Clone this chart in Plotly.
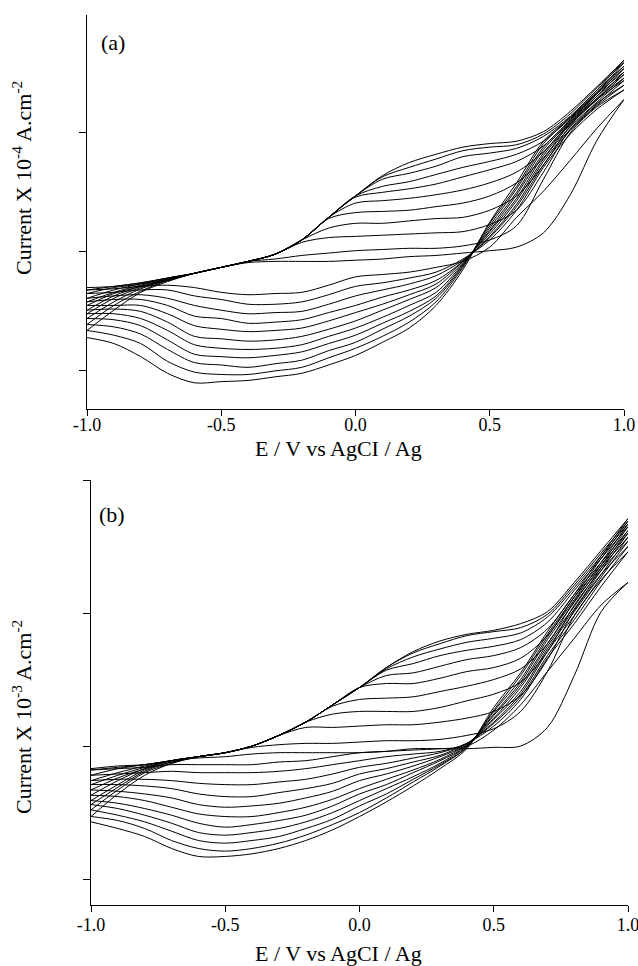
import plotly.graph_objects as go

# Potential grid (V vs AgCl/Ag) shared by every branch
E = [-1.0, -0.9, -0.8, -0.7, -0.6, -0.5, -0.4, -0.3, -0.2, -0.1, 0.0,
     0.1, 0.2, 0.3, 0.4, 0.5, 0.6, 0.7, 0.8, 0.9, 1.0]

# Panel (a): current (x 10^-4 A cm^-2), anodic (forward) sweeps, cycles 1..11
a_fwd = [
    [-0.30, -0.29, -0.26, -0.22, -0.18, -0.13, -0.09, -0.08, -0.08, -0.08, -0.07, -0.06, -0.04, -0.03, -0.01, 0.01, 0.04, 0.16, 0.48, 0.94, 1.28],
    [-0.32, -0.29, -0.26, -0.22, -0.18, -0.13, -0.08, -0.06, -0.03, -0.01, 0.01, 0.02, 0.03, 0.03, 0.05, 0.10, 0.22, 0.61, 1.00, 1.22, 1.36],
    [-0.35, -0.30, -0.27, -0.22, -0.18, -0.13, -0.08, -0.02, 0.08, 0.12, 0.13, 0.14, 0.15, 0.16, 0.17, 0.23, 0.35, 0.67, 1.03, 1.25, 1.40],
    [-0.39, -0.32, -0.27, -0.23, -0.18, -0.13, -0.08, -0.02, 0.10, 0.20, 0.24, 0.24, 0.26, 0.28, 0.29, 0.35, 0.47, 0.73, 1.06, 1.28, 1.44],
    [-0.42, -0.34, -0.28, -0.23, -0.18, -0.13, -0.08, -0.02, 0.10, 0.28, 0.33, 0.34, 0.35, 0.38, 0.41, 0.47, 0.58, 0.79, 1.08, 1.29, 1.46],
    [-0.45, -0.35, -0.29, -0.23, -0.18, -0.13, -0.08, -0.02, 0.10, 0.29, 0.41, 0.43, 0.45, 0.48, 0.52, 0.58, 0.67, 0.84, 1.09, 1.31, 1.49],
    [-0.49, -0.37, -0.29, -0.24, -0.18, -0.13, -0.08, -0.02, 0.10, 0.29, 0.46, 0.50, 0.53, 0.57, 0.63, 0.69, 0.76, 0.89, 1.11, 1.33, 1.51],
    [-0.52, -0.39, -0.30, -0.24, -0.18, -0.13, -0.08, -0.02, 0.10, 0.29, 0.47, 0.55, 0.59, 0.65, 0.71, 0.76, 0.82, 0.93, 1.13, 1.34, 1.54],
    [-0.56, -0.42, -0.31, -0.24, -0.18, -0.13, -0.08, -0.02, 0.10, 0.29, 0.47, 0.61, 0.66, 0.72, 0.80, 0.83, 0.87, 0.97, 1.14, 1.36, 1.56],
    [-0.61, -0.45, -0.33, -0.24, -0.18, -0.13, -0.08, -0.02, 0.10, 0.29, 0.47, 0.63, 0.71, 0.78, 0.85, 0.88, 0.90, 0.99, 1.16, 1.38, 1.59],
    [-0.66, -0.49, -0.34, -0.25, -0.18, -0.13, -0.08, -0.02, 0.10, 0.29, 0.47, 0.64, 0.75, 0.82, 0.88, 0.91, 0.93, 1.01, 1.18, 1.39, 1.61],
]
# Panel (a): cathodic (reverse) sweeps, listed at the same ascending potentials
a_rev = [
    [-0.32, -0.31, -0.29, -0.28, -0.30, -0.34, -0.36, -0.35, -0.34, -0.28, -0.21, -0.19, -0.17, -0.13, -0.08, 0.04, 0.29, 0.51, 0.77, 1.04, 1.28],
    [-0.35, -0.34, -0.32, -0.32, -0.37, -0.40, -0.44, -0.44, -0.42, -0.36, -0.29, -0.26, -0.22, -0.17, -0.06, 0.10, 0.35, 0.71, 0.99, 1.20, 1.36],
    [-0.39, -0.37, -0.36, -0.39, -0.45, -0.49, -0.52, -0.51, -0.50, -0.44, -0.37, -0.32, -0.27, -0.20, -0.07, 0.12, 0.38, 0.73, 1.02, 1.23, 1.40],
    [-0.42, -0.40, -0.40, -0.45, -0.54, -0.56, -0.60, -0.59, -0.57, -0.51, -0.45, -0.38, -0.32, -0.24, -0.08, 0.13, 0.40, 0.76, 1.03, 1.24, 1.44],
    [-0.45, -0.45, -0.45, -0.52, -0.62, -0.65, -0.67, -0.66, -0.64, -0.58, -0.51, -0.44, -0.36, -0.27, -0.08, 0.15, 0.43, 0.78, 1.05, 1.26, 1.46],
    [-0.49, -0.48, -0.50, -0.59, -0.71, -0.73, -0.75, -0.74, -0.71, -0.65, -0.58, -0.49, -0.40, -0.30, -0.09, 0.17, 0.45, 0.81, 1.07, 1.28, 1.49],
    [-0.52, -0.52, -0.56, -0.66, -0.78, -0.81, -0.82, -0.81, -0.78, -0.71, -0.64, -0.55, -0.45, -0.34, -0.10, 0.18, 0.48, 0.83, 1.08, 1.29, 1.51],
    [-0.56, -0.57, -0.62, -0.74, -0.86, -0.88, -0.89, -0.87, -0.84, -0.77, -0.70, -0.60, -0.50, -0.37, -0.11, 0.20, 0.50, 0.86, 1.09, 1.31, 1.54],
    [-0.61, -0.63, -0.69, -0.82, -0.93, -0.95, -0.97, -0.94, -0.91, -0.83, -0.76, -0.65, -0.54, -0.39, -0.12, 0.22, 0.53, 0.88, 1.10, 1.33, 1.56],
    [-0.66, -0.70, -0.77, -0.92, -1.01, -1.03, -1.03, -1.00, -0.97, -0.89, -0.81, -0.71, -0.59, -0.42, -0.13, 0.24, 0.55, 0.91, 1.12, 1.34, 1.59],
    [-0.72, -0.77, -0.88, -1.02, -1.10, -1.09, -1.08, -1.05, -1.02, -0.95, -0.87, -0.76, -0.64, -0.45, -0.15, 0.25, 0.58, 0.93, 1.13, 1.36, 1.61],
]

# Panel (b): current (x 10^-3 A cm^-2), forward sweeps
b_fwd = [
    [-0.17, -0.15, -0.14, -0.11, -0.09, -0.08, -0.06, -0.05, -0.05, -0.05, -0.05, -0.04, -0.02, -0.02, -0.02, -0.01, 0.00, 0.14, 0.53, 1.01, 1.23],
    [-0.18, -0.16, -0.14, -0.11, -0.08, -0.05, -0.01, 0.01, 0.02, 0.02, 0.03, 0.04, 0.04, 0.05, 0.08, 0.13, 0.26, 0.56, 0.98, 1.25, 1.46],
    [-0.22, -0.17, -0.14, -0.11, -0.08, -0.05, 0.00, 0.08, 0.14, 0.14, 0.15, 0.16, 0.16, 0.18, 0.21, 0.26, 0.38, 0.65, 1.02, 1.29, 1.50],
    [-0.26, -0.20, -0.15, -0.11, -0.08, -0.05, 0.00, 0.08, 0.18, 0.24, 0.26, 0.26, 0.26, 0.29, 0.34, 0.39, 0.48, 0.71, 1.06, 1.32, 1.54],
    [-0.29, -0.22, -0.16, -0.11, -0.08, -0.05, 0.00, 0.08, 0.18, 0.30, 0.35, 0.36, 0.37, 0.41, 0.45, 0.50, 0.58, 0.77, 1.09, 1.34, 1.57],
    [-0.33, -0.24, -0.17, -0.11, -0.08, -0.05, 0.00, 0.08, 0.18, 0.31, 0.44, 0.47, 0.47, 0.51, 0.56, 0.59, 0.66, 0.83, 1.12, 1.36, 1.60],
    [-0.37, -0.26, -0.17, -0.11, -0.08, -0.05, 0.00, 0.08, 0.18, 0.31, 0.44, 0.53, 0.55, 0.60, 0.65, 0.68, 0.74, 0.88, 1.14, 1.38, 1.62],
    [-0.41, -0.29, -0.18, -0.12, -0.08, -0.05, 0.00, 0.08, 0.18, 0.31, 0.44, 0.57, 0.62, 0.68, 0.72, 0.75, 0.80, 0.93, 1.17, 1.41, 1.65],
    [-0.44, -0.31, -0.19, -0.12, -0.08, -0.05, 0.00, 0.08, 0.18, 0.31, 0.44, 0.58, 0.67, 0.73, 0.78, 0.81, 0.85, 0.97, 1.19, 1.43, 1.67],
    [-0.48, -0.33, -0.20, -0.13, -0.08, -0.05, 0.00, 0.08, 0.18, 0.31, 0.44, 0.59, 0.70, 0.77, 0.83, 0.86, 0.89, 0.99, 1.21, 1.45, 1.69],
    [-0.53, -0.36, -0.22, -0.13, -0.08, -0.05, 0.00, 0.08, 0.18, 0.31, 0.44, 0.59, 0.71, 0.79, 0.84, 0.87, 0.92, 1.01, 1.23, 1.47, 1.71],
]
# Panel (b): reverse sweeps
b_rev = [
    [-0.18, -0.17, -0.16, -0.14, -0.14, -0.14, -0.14, -0.12, -0.11, -0.08, -0.05, -0.04, -0.03, -0.02, 0.00, 0.12, 0.31, 0.56, 0.81, 1.06, 1.23],
    [-0.22, -0.21, -0.20, -0.19, -0.20, -0.20, -0.20, -0.19, -0.17, -0.14, -0.11, -0.08, -0.06, -0.04, 0.02, 0.15, 0.35, 0.66, 0.92, 1.20, 1.46],
    [-0.26, -0.25, -0.25, -0.26, -0.28, -0.29, -0.29, -0.27, -0.25, -0.21, -0.16, -0.13, -0.09, -0.05, 0.02, 0.17, 0.37, 0.68, 0.95, 1.24, 1.50],
    [-0.29, -0.29, -0.30, -0.32, -0.36, -0.38, -0.38, -0.35, -0.32, -0.28, -0.21, -0.17, -0.12, -0.07, 0.02, 0.18, 0.39, 0.71, 0.98, 1.27, 1.54],
    [-0.33, -0.34, -0.36, -0.39, -0.44, -0.46, -0.45, -0.43, -0.39, -0.34, -0.26, -0.21, -0.15, -0.08, 0.01, 0.20, 0.41, 0.73, 1.01, 1.29, 1.57],
    [-0.37, -0.38, -0.41, -0.46, -0.51, -0.53, -0.53, -0.50, -0.46, -0.40, -0.32, -0.25, -0.18, -0.10, 0.01, 0.21, 0.44, 0.75, 1.03, 1.32, 1.60],
    [-0.41, -0.43, -0.47, -0.52, -0.58, -0.61, -0.59, -0.56, -0.52, -0.45, -0.36, -0.29, -0.20, -0.11, 0.00, 0.23, 0.46, 0.77, 1.05, 1.34, 1.62],
    [-0.44, -0.47, -0.52, -0.58, -0.65, -0.67, -0.65, -0.62, -0.57, -0.50, -0.41, -0.32, -0.23, -0.13, 0.00, 0.24, 0.48, 0.80, 1.08, 1.36, 1.65],
    [-0.48, -0.52, -0.57, -0.64, -0.71, -0.73, -0.71, -0.68, -0.62, -0.55, -0.45, -0.36, -0.25, -0.14, -0.01, 0.26, 0.50, 0.82, 1.10, 1.38, 1.67],
    [-0.53, -0.56, -0.62, -0.71, -0.77, -0.79, -0.77, -0.73, -0.67, -0.59, -0.50, -0.39, -0.27, -0.15, -0.01, 0.27, 0.53, 0.84, 1.12, 1.41, 1.69],
    [-0.57, -0.62, -0.68, -0.77, -0.83, -0.83, -0.81, -0.77, -0.71, -0.63, -0.53, -0.42, -0.30, -0.17, -0.02, 0.29, 0.55, 0.86, 1.14, 1.43, 1.71],
]

x_ticks = [-1.0, -0.5, 0.0, 0.5, 1.0]
x_tick_text = ["-1.0", "-0.5", "0.0", "0.5", "1.0"]
y_ticks = [-1, 0, 1, 2]
x_title = "E / V vs AgCI / Ag"
y_title_a = "Current X 10<sup>-4</sup> A.cm<sup>-2</sup>"
y_title_b = "Current X 10<sup>-3</sup> A.cm<sup>-2</sup>"

FONT = "Liberation Serif, Times New Roman, serif"
W, H = 638, 966

fig = go.Figure()
line = dict(color="black", width=1, shape="spline", smoothing=0.9)


def add_panel(fwd, rev, xa, ya):
    for f, r in zip(fwd, rev):
        fig.add_trace(go.Scatter(x=E, y=f, mode="lines", line=line,
                                 xaxis=xa, yaxis=ya, hoverinfo="skip"))
        fig.add_trace(go.Scatter(x=E[::-1], y=r[::-1], mode="lines", line=line,
                                 xaxis=xa, yaxis=ya, hoverinfo="skip"))


add_panel(a_fwd, a_rev, "x", "y")
add_panel(b_fwd, b_rev, "x2", "y2")

xcommon = dict(range=[-1.0, 1.0], tickvals=x_ticks, ticktext=x_tick_text,
               showline=True, linecolor="black", linewidth=1.3, ticks="outside",
               ticklen=6, tickwidth=1.3, tickcolor="black", showgrid=False,
               zeroline=False, automargin=False, ticklabeloverflow="allow",
               tickfont=dict(family=FONT, size=18, color="black"))
ycommon = dict(tickvals=y_ticks, showticklabels=False, showline=True,
               linecolor="black", linewidth=1.3, ticks="outside", ticklen=7,
               tickwidth=1.3, tickcolor="black", showgrid=False, zeroline=False,
               automargin=False)

fig.update_layout(
    width=W, height=H, margin=dict(l=0, r=0, t=0, b=0, autoexpand=False),
    paper_bgcolor="white", plot_bgcolor="white", showlegend=False,
    xaxis=dict(domain=[87 / W, 624 / W], anchor="y", ticklabelstandoff=-7,
               **xcommon),
    yaxis=dict(domain=[1 - 409 / H, 1 - 15 / H], anchor="x",
               range=[-1.32, 1.99], **ycommon),
    xaxis2=dict(domain=[91 / W, 628 / W], anchor="y2", ticklabelstandoff=-3,
                **xcommon),
    yaxis2=dict(domain=[1 - 905 / H, 1 - 480 / H], anchor="x2",
                range=[-1.195, 2.0], **ycommon),
)

tfont = dict(family=FONT, size=22, color="black")
ann = [
    dict(text="(a)", x=113 / W, y=1 - 43 / H),
    dict(text="(b)", x=112 / W, y=1 - 514 / H),
    dict(text=x_title, x=338 / W, y=1 - 448 / H),
    dict(text=x_title, x=338 / W, y=1 - 953 / H),
    dict(text=y_title_a, x=22 / W, y=1 - 178 / H, textangle=-90),
    dict(text=y_title_b, x=22 / W, y=1 - 717 / H, textangle=-90),
]
for a in ann:
    fig.add_annotation(xref="paper", yref="paper", showarrow=False,
                       xanchor="center", yanchor="middle", font=tfont, **a)

fig.write_html("out.html")
